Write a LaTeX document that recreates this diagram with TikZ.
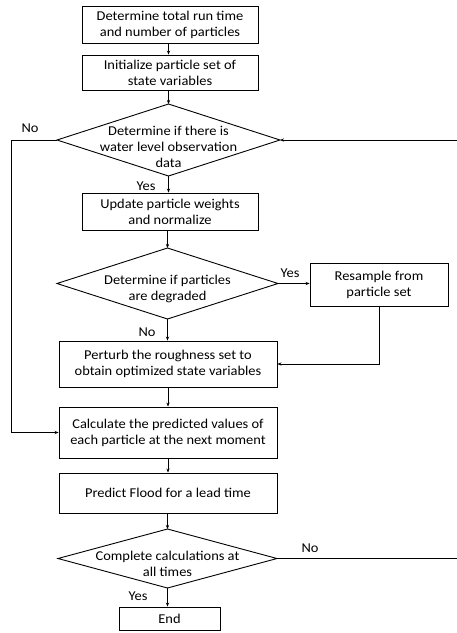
\documentclass[tikz,border=0pt]{standalone}
\usepackage{fontspec}
\setmainfont{Carlito}[FakeStretch=1.07]
\usetikzlibrary{arrows.meta}
\begin{document}
\begin{tikzpicture}[x=1pt,y=-1pt,
  txt/.style={font=\fontsize{13.5}{16}\selectfont},
  box/.style={draw, line width=0.9pt, inner sep=0pt, align=center, txt},
  shapebox/.style={inner sep=0pt, outer sep=0pt},
  lbl/.style={inner sep=0pt, align=center, txt},
  arr/.style={-{Stealth[length=4pt,width=3.2pt]}, line width=0.9pt},
  ln/.style={line width=0.9pt}]
\useasboundingbox (0,0) rectangle (457,633);

% process boxes
\node[box, minimum width=176pt, minimum height=37pt] (b1) at (170,24.5)
  {Determine total run time\\and number of particles};
\node[box, minimum width=176pt, minimum height=35pt] (b2) at (170,72.5)
  {Initialize particle set of\\state variables};
\node[box, minimum width=176pt, minimum height=37pt] (b3) at (170,211.5)
  {Update particle weights\\and normalize};
\node[box, minimum width=138pt, minimum height=43pt] (rs) at (379,284.5)
  {Resample from\\particle set};
\node[box, minimum width=218pt, minimum height=46pt] (pb) at (168,364)
  {Perturb the roughness set to\\obtain optimized state variables};
\node[box, minimum width=218pt, minimum height=51pt] (cl) at (168,432.5)
  {Calculate the predicted values of\\each particle at the next moment};
\node[box, minimum width=218pt, minimum height=40pt] (pf) at (168,493)
  {Predict Flood for a lead time};
\node[box, minimum width=101pt, minimum height=23pt] (en) at (169.5,618.5)
  {End};

% decision diamonds
\node[shapebox, minimum width=223pt, minimum height=72pt] (d1) at (168.5,140) {};
\draw[ln] (d1.north) -- (d1.east) -- (d1.south) -- (d1.west) -- cycle;
\node[lbl] at (168.5,146.5) {Determine if there is\\water level observation\\data};

\node[shapebox, minimum width=221pt, minimum height=71pt] (d2) at (167.5,283.5) {};
\draw[ln] (d2.north) -- (d2.east) -- (d2.south) -- (d2.west) -- cycle;
\node[lbl] at (167.5,288.5) {Determine if particles\\are degraded};

\node[shapebox, minimum width=219pt, minimum height=59pt] (d3) at (167.5,558.5) {};
\draw[ln] (d3.north) -- (d3.east) -- (d3.south) -- (d3.west) -- cycle;
\node[lbl] at (167.5,564) {Complete calculations at\\all times};

% loop-back coordinates
\coordinate (lft) at (11,0);
\coordinate (rt1) at (457,140);
\coordinate (rt2) at (457,558.5);

% connectors
\draw[arr] (b1.south -| d1.north) -- (b2.north -| d1.north);
\draw[arr] (b2.south -| d1.north) -- (d1.north);
\draw[arr] (d1.south) -- (b3.north -| d1.south);
\draw[arr] (b3.south -| d2.north) -- (d2.north);
\draw[arr] (d2.east) -- (rs.west |- d2.east);
\draw[arr] (rs.south) |- (pb.east);
\draw[arr] (d2.south) -- (pb.north -| d2.south);
\draw[arr] (pb.south) -- (cl.north);
\draw[arr] (d1.west) -- (d1.west -| lft) |- (cl.west);
\draw[arr] (cl.south) -- (pf.north);
\draw[arr] (pf.south -| d3.north) -- (d3.north);
\draw[arr] (d3.south) -- (en.north -| d3.south);
\draw[ln] (d3.east) -- (rt2);
\draw[arr] (rt1) -- (d1.east);

% branch labels
\node[lbl] at (30,128) {No};
\node[lbl] at (146,186) {Yes};
\node[lbl] at (290,273) {Yes};
\node[lbl] at (147,332) {No};
\node[lbl] at (310,548) {No};
\node[lbl] at (138,596) {Yes};
\end{tikzpicture}
\end{document}
